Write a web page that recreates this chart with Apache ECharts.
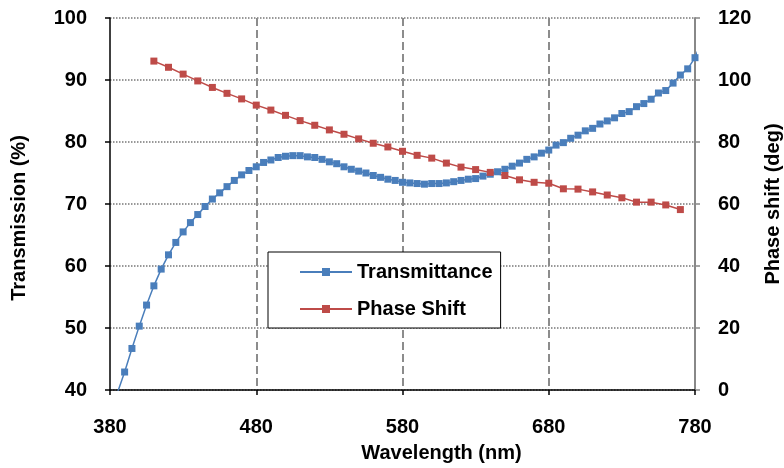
<!DOCTYPE html>
<html>
<head>
<meta charset="utf-8">
<script src="https://cdn.jsdelivr.net/npm/echarts@6/dist/echarts.min.js"></script>
<style>
  html, body { margin: 0; padding: 0; background: #fff; }
  #chart { width: 784px; height: 468px; }
</style>
</head>
<body>
<div id="chart"></div>
<script>
// 透过率 / 相移 数据
const waveT = [385, 390, 395, 400, 405, 410, 415, 420, 425, 430, 435, 440, 445, 450, 455, 460,
  465, 470, 475, 480, 485, 490, 495, 500, 505, 510, 515, 520, 525, 530, 535, 540, 545, 550,
  555, 560, 565, 570, 575, 580, 585, 590, 595, 600, 605, 610, 615, 620, 625, 630, 635, 640,
  645, 650, 655, 660, 665, 670, 675, 680, 685, 690, 695, 700, 705, 710, 715, 720, 725, 730,
  735, 740, 745, 750, 755, 760, 765, 770, 775, 780, 785];
const transmittance = [39.5, 42.9, 46.7, 50.3, 53.7, 56.8, 59.5, 61.8, 63.8, 65.5, 67.0, 68.3,
  69.6, 70.8, 71.8, 72.8, 73.8, 74.7, 75.4, 76.0, 76.7, 77.1, 77.5, 77.7, 77.8, 77.8, 77.6,
  77.5, 77.2, 76.8, 76.5, 76.0, 75.6, 75.3, 75.0, 74.6, 74.3, 74.0, 73.8, 73.5, 73.4, 73.3,
  73.2, 73.3, 73.3, 73.4, 73.6, 73.8, 74.0, 74.1, 74.5, 74.8, 75.2, 75.6, 76.1, 76.6, 77.2,
  77.6, 78.2, 78.7, 79.5, 79.9, 80.6, 81.1, 81.8, 82.2, 82.9, 83.4, 83.9, 84.6, 84.9, 85.7,
  86.2, 86.9, 87.9, 88.3, 89.5, 90.8, 91.8, 93.6, 96.5];

const waveP = [410, 420, 430, 440, 450, 460, 470, 480, 490, 500, 510, 520, 530, 540, 550, 560,
  570, 580, 590, 600, 610, 620, 630, 640, 650, 660, 670, 680, 690, 700, 710, 720, 730, 740,
  750, 760, 770];
const phaseShift = [106.1, 104.1, 101.9, 99.7, 97.6, 95.7, 93.9, 91.9, 90.3, 88.6, 86.9, 85.4,
  83.9, 82.5, 81.0, 79.6, 78.4, 77.0, 75.7, 74.8, 73.2, 71.9, 71.1, 70.2, 69.2, 67.8, 67.0,
  66.7, 64.9, 64.8, 63.9, 62.9, 62.0, 60.6, 60.6, 59.7, 58.2];

const font = '"Liberation Sans", Arial, sans-serif';
const blue = '#4A7EBB';
const red = '#BE4B48';

const chart = echarts.init(document.getElementById('chart'), null, { renderer: 'canvas' });

const labelStyle = { color: '#000', fontSize: 20, fontWeight: 'bold', fontFamily: font };

chart.setOption({
  animation: false,
  backgroundColor: '#fff',
  grid: { left: 110, right: 89, top: 18, bottom: 78, containLabel: false, outerBoundsMode: 'none' },
  legend: {
    orient: 'vertical',
    left: 268,
    top: 252,
    padding: [9, 8, 8, 31],
    itemGap: 15,
    itemWidth: 52,
    itemHeight: 10,
    borderColor: '#000',
    borderWidth: 1,
    backgroundColor: '#fff',
    textStyle: { ...labelStyle, lineHeight: 22 },
    data: ['Transmittance', 'Phase Shift']
  },
  xAxis: {
    type: 'value',
    min: 380, max: 780, interval: 100,
    name: 'Wavelength (nm)',
    nameLocation: 'middle',
    nameGap: 53,
    nameTextStyle: { ...labelStyle, padding: [0, 0, 0, 78] },
    axisLine: { lineStyle: { color: '#000', width: 1.5 } },
    axisTick: { show: true, length: 5, lineStyle: { color: '#000', width: 1.5 } },
    axisLabel: { ...labelStyle, margin: 27 },
    splitLine: {
      show: true, showMinLine: false, showMaxLine: false,
      lineStyle: { color: '#8c8c8c', width: 2, type: [8, 4] }
    }
  },
  yAxis: [
    {
      type: 'value',
      min: 40, max: 100, interval: 10,
      name: 'Transmission (%)',
      nameLocation: 'middle',
      nameRotate: 90,
      nameGap: 81,
      nameTextStyle: { ...labelStyle, padding: [0, 28, 0, 0] },
      axisLine: { show: true, lineStyle: { color: '#000', width: 1.5 } },
      axisTick: { show: true, length: 5, lineStyle: { color: '#000', width: 1.5 } },
      axisLabel: { ...labelStyle, margin: 23 },
      splitLine: { show: true, lineStyle: { color: '#777', width: 1.5, type: [1.5, 1.5] } }
    },
    {
      type: 'value',
      min: 0, max: 120, interval: 20,
      position: 'right',
      name: 'Phase shift (deg)',
      nameLocation: 'middle',
      nameRotate: 90,
      nameGap: 68,
      nameTextStyle: labelStyle,
      axisLine: { show: true, lineStyle: { color: '#888', width: 2 } },
      axisTick: { show: true, length: 5, lineStyle: { color: '#888', width: 1.5 } },
      axisLabel: { ...labelStyle, margin: 23 },
      splitLine: { show: false }
    }
  ],
  series: [
    {
      name: 'Transmittance',
      type: 'line',
      yAxisIndex: 0,
      symbol: 'rect',
      symbolSize: 7,
      lineStyle: { color: blue, width: 1.5 },
      itemStyle: { color: blue },
      data: waveT.map((w, i) => [w, transmittance[i]])
    },
    {
      name: 'Phase Shift',
      type: 'line',
      yAxisIndex: 1,
      symbol: 'rect',
      symbolSize: 7,
      lineStyle: { color: red, width: 1.5 },
      itemStyle: { color: red },
      data: waveP.map((w, i) => [w, phaseShift[i]])
    }
  ]
});
</script>
</body>
</html>
